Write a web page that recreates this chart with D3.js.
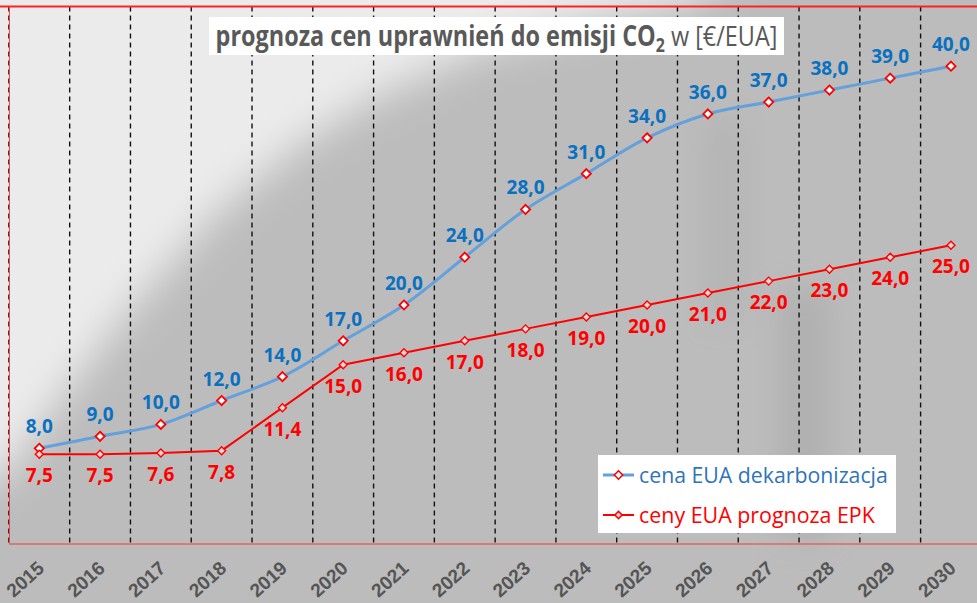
<!DOCTYPE html>
<html><head><meta charset="utf-8">
<script src="https://cdn.jsdelivr.net/npm/d3@7"></script>
<style>
html,body{margin:0;padding:0;background:#bcbcbc;}
svg{display:block;font-family:"Open Sans",sans-serif;}
</style></head>
<body>
<svg id="chart" width="977" height="603"></svg>
<script>
const years = ["2015","2016","2017","2018","2019","2020","2021","2022","2023","2024","2025","2026","2027","2028","2029","2030"];
const blueValues = [8,9,10,12,14,17,20,24,28,31,34,36,37,38,39,40];
const redValues = [7.5,7.5,7.6,7.8,11.4,15,16,17,18,19,20,21,22,23,24,25];
const seriesNames = ["cena EUA dekarbonizacja","ceny EUA prognoza EPK"];
const titleBold = "prognoza cen uprawnień do emisji CO";
const titleSub = "2";
const titleRest = " w [€/EUA]";

const W = 977, H = 603;
const svg = d3.select("#chart");
const left = 8.9, step = 60.78;
const x = d3.scaleBand().domain(years).range([left, left + step*years.length]).padding(0);
const y = d3.scaleLinear().domain([0,45]).range([543.8, 6.5]);
const cx = d => x(d) + x.bandwidth()/2;

// background
const defs = svg.append("defs");
const blur = defs.append("filter").attr("id","blur").attr("x","-50%").attr("y","-50%").attr("width","200%").attr("height","200%");
blur.append("feGaussianBlur").attr("stdDeviation",20);
const blur2 = defs.append("filter").attr("id","blur2").attr("x","-50%").attr("y","-50%").attr("width","200%").attr("height","200%");
blur2.append("feGaussianBlur").attr("stdDeviation",14);

svg.append("rect").attr("width",W).attr("height",H).attr("fill","#bcbcbc");
const bg = svg.append("g");
bg.append("path").attr("fill","#ebebeb").attr("filter","url(#blur)")
  .attr("d","M-80,-80 L760,-80 L700,0 L590,22 L480,50 L380,95 L300,145 L215,215 L130,310 L60,400 L10,470 L-80,520 Z");
bg.append("rect").attr("x",780).attr("y",290).attr("width",50).attr("height",250).attr("fill","#a9a9a9").attr("opacity",0.6).attr("filter","url(#blur2)");
bg.append("rect").attr("x",705).attr("y",120).attr("width",40).attr("height",200).attr("fill","#adadad").attr("opacity",0.5).attr("filter","url(#blur2)");

// gridlines (category boundaries)
svg.append("g").selectAll("line").data(years).join("line")
  .attr("x1",d=>x(d)).attr("x2",d=>x(d))
  .attr("y1",y(45)).attr("y2",y(0))
  .attr("stroke","#111").attr("stroke-width",1.4).attr("stroke-dasharray","5,4");

// plot frame lines
svg.append("line").attr("x1",0).attr("x2",W).attr("y1",6.5).attr("y2",6.5).attr("stroke","#ff2222").attr("stroke-width",2.2);
svg.append("line").attr("x1",9.5).attr("x2",9.5).attr("y1",6.5).attr("y2",544).attr("stroke","#ff4040").attr("stroke-width",1);
svg.append("line").attr("x1",9).attr("x2",W).attr("y1",544).attr("y2",544).attr("stroke","#e06464").attr("stroke-width",1.3);

// x axis labels
const xAxis = svg.append("g").attr("transform","translate(0,544)")
  .call(d3.axisBottom(x).tickSize(0).tickPadding(0));
xAxis.select(".domain").remove();
xAxis.selectAll("text")
  .attr("fill","#555").attr("font-size","19px").attr("font-weight","bold")
  .attr("text-anchor","end").attr("dy",0).attr("y",0)
  .attr("transform","translate(6,26) rotate(-42)");

// lines
const blueLine = d3.line().x((d,i)=>cx(years[i])).y(d=>y(d)).curve(d3.curveCatmullRom.alpha(0.5));
const redLine = d3.line().x((d,i)=>cx(years[i])).y(d=>y(d));
svg.append("path").datum(blueValues).attr("d",blueLine).attr("fill","none").attr("stroke","#64a0db").attr("stroke-width",3);
svg.append("path").datum(redValues).attr("d",redLine).attr("fill","none").attr("stroke","#ff0000").attr("stroke-width",2);

const diamond = (s) => `M0,${-s} L${s},0 L0,${s} L${-s},0 Z`;
svg.append("g").selectAll("path").data(blueValues).join("path")
  .attr("transform",(d,i)=>`translate(${cx(years[i])},${y(d)})`)
  .attr("d",diamond(4.6)).attr("fill","#fff").attr("stroke","#ff0000").attr("stroke-width",1.8);
svg.append("g").selectAll("path").data(redValues).join("path")
  .attr("transform",(d,i)=>`translate(${cx(years[i])},${y(d)})`)
  .attr("d",diamond(4)).attr("fill","#f6d6d6").attr("stroke","#ff0000").attr("stroke-width",1.4);

// data labels
const fmt = v => d3.format(".1f")(v).replace(".",",");
svg.append("g").selectAll("text").data(blueValues).join("text")
  .attr("x",(d,i)=>cx(years[i])).attr("y",d=>y(d)-15)
  .attr("text-anchor","middle").attr("font-size","19px").attr("font-weight","bold").attr("fill","#0a70c0")
  .text(fmt);
svg.append("g").selectAll("text").data(redValues).join("text")
  .attr("x",(d,i)=>cx(years[i])).attr("y",d=>y(d)+28)
  .attr("text-anchor","middle").attr("font-size","19px").attr("font-weight","bold").attr("fill","#ff0000")
  .text(fmt);

// title
svg.append("rect").attr("x",209).attr("y",17).attr("width",575).attr("height",38).attr("fill","#fff");
const title = svg.append("text").attr("x",496.5).attr("y",46).attr("text-anchor","middle")
  .attr("font-size","22px").attr("fill","#595959");
title.append("tspan").attr("font-weight","bold").text(titleBold);
title.append("tspan").attr("font-weight","bold").attr("font-size","15px").attr("dy",5).text(titleSub);
title.append("tspan").attr("dy",-5).text(titleRest);
{
  const len = title.node().getComputedTextLength();
  const k = 562/len;
  title.attr("font-size",(22*k)+"px");
  title.select("tspan:nth-child(2)").attr("font-size",(15*k)+"px");
  // make glyphs taller (narrow, Calibri-like look) while keeping width
  title.attr("transform","translate(0,46) scale(1,1.18) translate(0,-46)");
}

// legend
const lg = svg.append("g");
lg.append("rect").attr("x",598).attr("y",455).attr("width",298).attr("height",78).attr("fill","#fff");
const items = [
  {name:seriesNames[0], color:"#64a0db", text:"#2e74b8", w:3, ms:4.2, mf:"#fff", y:475, tw:249},
  {name:seriesNames[1], color:"#ff0000", text:"#ff0000", w:2, ms:3.6, mf:"#f6d6d6", y:515, tw:236}
];
items.forEach(it=>{
  lg.append("line").attr("x1",603).attr("x2",634).attr("y1",it.y).attr("y2",it.y).attr("stroke",it.color).attr("stroke-width",it.w);
  lg.append("path").attr("transform",`translate(618.5,${it.y})`).attr("d",diamond(it.ms)).attr("fill",it.mf).attr("stroke","#ff0000").attr("stroke-width",1.5);
  const t = lg.append("text").attr("x",639).attr("y",it.y+8).attr("font-size","20px").attr("fill",it.text).text(it.name);
  const l = t.node().getComputedTextLength();
  t.attr("font-size",(20*it.tw/l)+"px");
});
</script>
</body></html>
